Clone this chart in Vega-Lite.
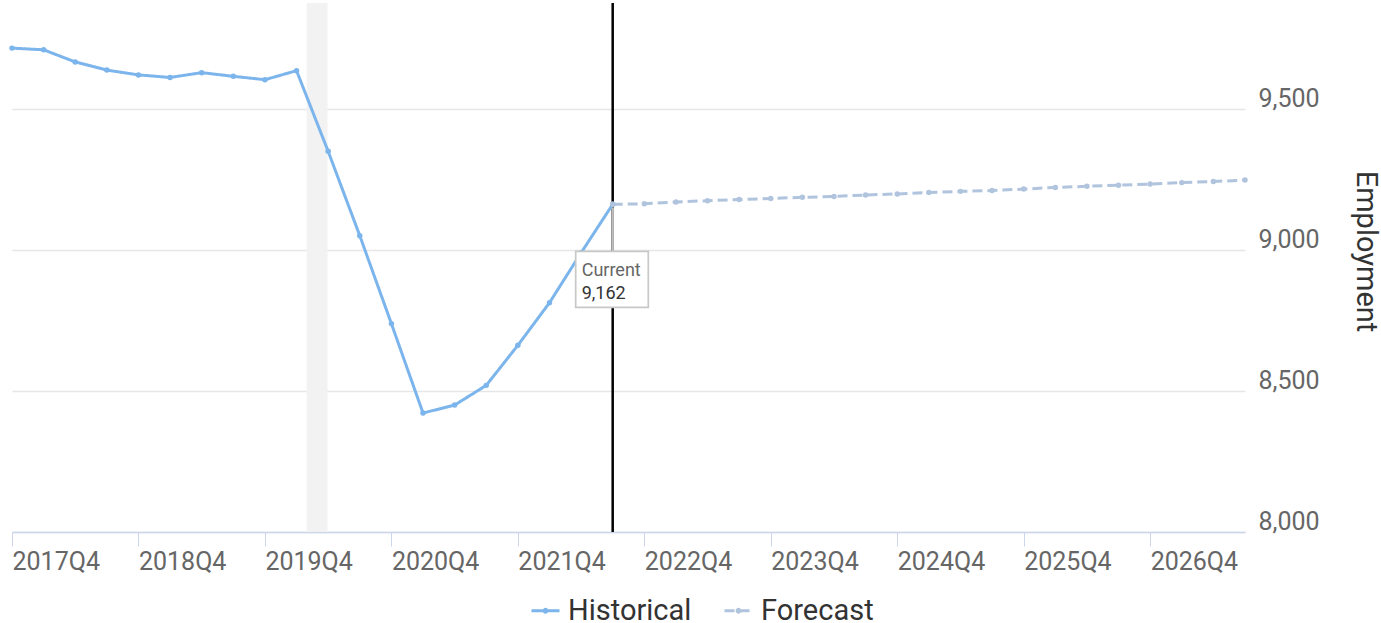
{
  "$schema": "https://vega.github.io/schema/vega-lite/v6.json",
  "width": 1233,
  "height": 529,
  "autosize": {"type": "none"},
  "padding": {"left": 12, "top": 3, "right": 136, "bottom": 91},
  "background": "white",
  "config": {
    "view": {"stroke": null},
    "font": "Roboto",
    "axis": {"labelFont": "Roboto", "titleFont": "Roboto"},
    "legend": {"labelFont": "Roboto"}
  },
  "datasets": {
    "employment": [
      {"quarter": "2017Q4", "value": 9716, "series": "Historical"},
      {"quarter": "2018Q1", "value": 9710, "series": "Historical"},
      {"quarter": "2018Q2", "value": 9667, "series": "Historical"},
      {"quarter": "2018Q3", "value": 9638, "series": "Historical"},
      {"quarter": "2018Q4", "value": 9621, "series": "Historical"},
      {"quarter": "2019Q1", "value": 9612, "series": "Historical"},
      {"quarter": "2019Q2", "value": 9629, "series": "Historical"},
      {"quarter": "2019Q3", "value": 9616, "series": "Historical"},
      {"quarter": "2019Q4", "value": 9604, "series": "Historical"},
      {"quarter": "2020Q1", "value": 9636, "series": "Historical"},
      {"quarter": "2020Q2", "value": 9350, "series": "Historical"},
      {"quarter": "2020Q3", "value": 9051, "series": "Historical"},
      {"quarter": "2020Q4", "value": 8739, "series": "Historical"},
      {"quarter": "2021Q1", "value": 8422, "series": "Historical"},
      {"quarter": "2021Q2", "value": 8450, "series": "Historical"},
      {"quarter": "2021Q3", "value": 8520, "series": "Historical"},
      {"quarter": "2021Q4", "value": 8662, "series": "Historical"},
      {"quarter": "2022Q1", "value": 8813, "series": "Historical"},
      {"quarter": "2022Q2", "value": 8990, "series": "Historical"},
      {"quarter": "2022Q3", "value": 9162, "series": "Historical"},
      {"quarter": "2022Q3", "value": 9162, "series": "Forecast"},
      {"quarter": "2022Q4", "value": 9164, "series": "Forecast"},
      {"quarter": "2023Q1", "value": 9170, "series": "Forecast"},
      {"quarter": "2023Q2", "value": 9175, "series": "Forecast"},
      {"quarter": "2023Q3", "value": 9179, "series": "Forecast"},
      {"quarter": "2023Q4", "value": 9183, "series": "Forecast"},
      {"quarter": "2024Q1", "value": 9187, "series": "Forecast"},
      {"quarter": "2024Q2", "value": 9190, "series": "Forecast"},
      {"quarter": "2024Q3", "value": 9195, "series": "Forecast"},
      {"quarter": "2024Q4", "value": 9199, "series": "Forecast"},
      {"quarter": "2025Q1", "value": 9204, "series": "Forecast"},
      {"quarter": "2025Q2", "value": 9208, "series": "Forecast"},
      {"quarter": "2025Q3", "value": 9211, "series": "Forecast"},
      {"quarter": "2025Q4", "value": 9216, "series": "Forecast"},
      {"quarter": "2026Q1", "value": 9222, "series": "Forecast"},
      {"quarter": "2026Q2", "value": 9226, "series": "Forecast"},
      {"quarter": "2026Q3", "value": 9230, "series": "Forecast"},
      {"quarter": "2026Q4", "value": 9234, "series": "Forecast"},
      {"quarter": "2027Q1", "value": 9239, "series": "Forecast"},
      {"quarter": "2027Q2", "value": 9243, "series": "Forecast"},
      {"quarter": "2027Q3", "value": 9248, "series": "Forecast"}
    ],
    "recession": [{"start": 2020.08, "end": 2020.245}],
    "current": [{"quarter": "2022Q3", "value": 9162, "label": "Current"}]
  },
  "layer": [
    {
      "data": {"name": "recession"},
      "mark": {"type": "rect", "color": "#f2f2f2"},
      "encoding": {
        "x": {
          "field": "start", "type": "quantitative", "title": null,
          "scale": {"domain": [2017.75, 2027.5], "nice": false, "zero": false},
          "axis": {
            "values": [2017.75, 2018.75, 2019.75, 2020.75, 2021.75, 2022.75, 2023.75, 2024.75, 2025.75, 2026.75],
            "labelExpr": "floor(datum.value) + 'Q4'",
            "labelAlign": "left",
            "labelBaseline": "top",
            "labelPadding": 3,
            "labelFontSize": 25,
            "labelColor": "#666666",
            "labelFlush": false,
            "labelOverlap": false,
            "tickSize": 14,
            "tickColor": "#ccd6eb",
            "tickWidth": 1,
            "domainColor": "#ccd6eb",
            "domainWidth": 1.5,
            "grid": false
          }
        },
        "x2": {"field": "end"}
      }
    },
    {
      "data": {"name": "current"},
      "transform": [{"calculate": "toNumber(substring(datum.quarter,0,4)) + (toNumber(substring(datum.quarter,5,6)) - 1) / 4", "as": "t"}],
      "mark": {"type": "rule", "color": "#000000", "strokeWidth": 2.5},
      "encoding": {"x": {"field": "t", "type": "quantitative", "title": null}}
    },
    {
      "data": {"name": "employment"},
      "transform": [{"calculate": "toNumber(substring(datum.quarter,0,4)) + (toNumber(substring(datum.quarter,5,6)) - 1) / 4", "as": "t"}],
      "mark": {"type": "line", "strokeWidth": 3, "point": {"filled": true, "size": 30}},
      "encoding": {
        "x": {"field": "t", "type": "quantitative", "title": null},
        "y": {
          "field": "value", "type": "quantitative", "title": "Employment",
          "scale": {"domain": [8000, 9876], "nice": false, "zero": false},
          "axis": {
            "orient": "right",
            "values": [8000, 8500, 9000, 9500],
            "format": ",d",
            "domain": false,
            "ticks": false,
            "grid": true,
            "gridColor": "#e6e6e6",
            "gridWidth": 1.5,
            "labelAlign": "left",
            "labelBaseline": "alphabetic",
            "labelOffset": -2.5,
            "labelPadding": 13,
            "labelFontSize": 25,
            "labelColor": "#666666",
            "labelFlush": false,
            "titleFontSize": 29,
            "titleFontWeight": "normal",
            "titleColor": "#333333",
            "titleAngle": 90,
            "titleAlign": "center",
            "titleBaseline": "alphabetic",
            "titleX": 111,
            "titleY": 248
          }
        },
        "color": {
          "field": "series", "type": "nominal",
          "scale": {"domain": ["Historical", "Forecast"], "range": ["#7cb5ec", "#b0c4de"]},
          "legend": {
            "title": null,
            "orient": "none",
            "direction": "horizontal",
            "legendX": 518,
            "legendY": 592,
            "labelFontSize": 29,
            "labelColor": "#333333",
            "labelOffset": 7,
            "columnPadding": 26,
            "symbolType": "M-1,0H1M-0.1,0A0.1,0.1 0 1,1 0.1,0A0.1,0.1 0 1,1 -0.1,0",
            "symbolSize": 784,
            "symbolStrokeWidth": 3,
            "labelLimit": 400
          }
        },
        "strokeDash": {
          "field": "series", "type": "nominal",
          "scale": {"domain": ["Historical", "Forecast"], "range": [[1, 0], [10, 5]]},
          "legend": {
            "title": null,
            "orient": "none",
            "direction": "horizontal",
            "legendX": 518,
            "legendY": 592,
            "labelFontSize": 29,
            "labelColor": "#333333",
            "labelOffset": 7,
            "columnPadding": 26,
            "symbolType": "M-1,0H1M-0.1,0A0.1,0.1 0 1,1 0.1,0A0.1,0.1 0 1,1 -0.1,0",
            "symbolSize": 784,
            "symbolStrokeWidth": 3,
            "labelLimit": 400
          }
        }
      }
    },
    {
      "data": {"name": "current"},
      "transform": [{"calculate": "toNumber(substring(datum.quarter,0,4)) + (toNumber(substring(datum.quarter,5,6)) - 1) / 4", "as": "t"}],
      "mark": {"type": "rule", "color": "#bdbdbd", "strokeWidth": 2.5, "yOffset": 3, "y2Offset": 47},
      "encoding": {
        "x": {"field": "t", "type": "quantitative", "title": null},
        "y": {"field": "value", "type": "quantitative"},
        "y2": {"field": "value"}
      }
    },
    {
      "data": {"name": "current"},
      "transform": [{"calculate": "toNumber(substring(datum.quarter,0,4)) + (toNumber(substring(datum.quarter,5,6)) - 1) / 4", "as": "t"}],
      "mark": {"type": "rect", "fill": "#ffffff", "stroke": "#c8c8c8", "strokeWidth": 1.7, "xOffset": -37, "x2Offset": 35.6, "yOffset": 47, "y2Offset": 103},
      "encoding": {
        "x": {"field": "t", "type": "quantitative", "title": null},
        "x2": {"field": "t"},
        "y": {"field": "value", "type": "quantitative"},
        "y2": {"field": "value"}
      }
    },
    {
      "data": {"name": "current"},
      "transform": [{"calculate": "toNumber(substring(datum.quarter,0,4)) + (toNumber(substring(datum.quarter,5,6)) - 1) / 4", "as": "t"}],
      "mark": {"type": "text", "align": "left", "baseline": "alphabetic", "dx": -31, "dy": 72, "fontSize": 18, "color": "#666666", "font": "Roboto"},
      "encoding": {
        "x": {"field": "t", "type": "quantitative", "title": null},
        "y": {"field": "value", "type": "quantitative"},
        "text": {"field": "label"}
      }
    },
    {
      "data": {"name": "current"},
      "transform": [{"calculate": "toNumber(substring(datum.quarter,0,4)) + (toNumber(substring(datum.quarter,5,6)) - 1) / 4", "as": "t"}],
      "mark": {"type": "text", "align": "left", "baseline": "alphabetic", "dx": -31, "dy": 95, "fontSize": 18, "color": "#333333", "font": "Roboto"},
      "encoding": {
        "x": {"field": "t", "type": "quantitative", "title": null},
        "y": {"field": "value", "type": "quantitative"},
        "text": {"field": "value", "format": ",d"}
      }
    }
  ]
}
